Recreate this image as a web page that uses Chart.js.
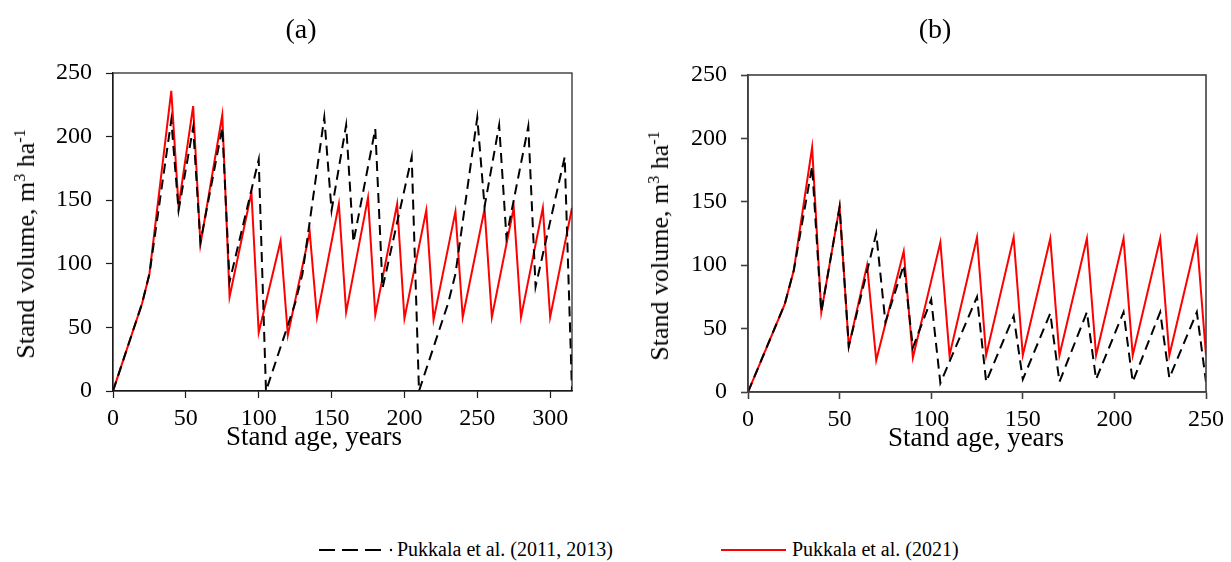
<!DOCTYPE html>
<html>
<head>
<meta charset="utf-8">
<script src="https://cdn.jsdelivr.net/npm/chart.js@4/dist/chart.umd.min.js"></script>
<style>
  body { margin: 0; background: #fff; width: 1231px; height: 562px; position: relative; overflow: hidden;
         font-family: 'Liberation Serif', 'Times New Roman', serif; color: #000; }
  .box { position: absolute; }
  .lbl { position: absolute; transform: translate(-50%, -50%); line-height: 1; white-space: nowrap; }
  .ytitle { position: absolute; transform: translate(-50%, -50%) rotate(-90deg); line-height: 1; white-space: nowrap; font-size: 26px; }
  .ytitle sup { font-size: 0.62em; vertical-align: 0.55em; line-height: 0; }
  .legend { position: absolute; left: 0; top: 537px; width: 1231px; height: 26px; }
  .legend span { position: absolute; top: 2px; font-size: 20px; line-height: 1; white-space: nowrap; }
</style>
</head>
<body>
<div class="box" id="wrapA" style="left:0;top:0;width:600px;height:440px"><canvas id="chartA"></canvas></div>
<div class="box" id="wrapB" style="left:620px;top:0;width:611px;height:440px"><canvas id="chartB"></canvas></div>

<div class="lbl" style="left:301px;top:29px;font-size:28px">(a)</div>
<div class="lbl" style="left:935px;top:29px;font-size:28px">(b)</div>
<div class="lbl" style="left:314px;top:436px;font-size:27px">Stand age, years</div>
<div class="lbl" style="left:976px;top:437px;font-size:27px">Stand age, years</div>
<div class="ytitle" style="left:26px;top:244px">Stand volume, m<sup>3</sup> ha<sup>-1</sup></div>
<div class="ytitle" style="left:660px;top:246px">Stand volume, m<sup>3</sup> ha<sup>-1</sup></div>

<div class="legend">
  <svg style="position:absolute;left:318px;top:0" width="80" height="26">
    <line x1="1" y1="13" x2="63" y2="13" stroke="#000" stroke-width="2" stroke-dasharray="16,7"></line>
    <circle cx="73" cy="13" r="1.2" fill="#000"></circle>
  </svg>
  <span style="left:397px">Pukkala et al. (2011, 2013)</span>
  <svg style="position:absolute;left:720px;top:0" width="68" height="26">
    <line x1="1" y1="13" x2="66" y2="13" stroke="#ff0000" stroke-width="2"></line>
  </svg>
  <span style="left:792px">Pukkala et al. (2021)</span>
</div>

<script>
// (a) stand age (years) and volume (m3/ha)
const agesRedA = [0, 20, 25, 40, 45, 55, 60, 75, 80, 95, 100, 115, 120, 135, 140, 155, 160, 175, 180, 195, 200, 215, 220, 235, 240, 255, 260, 275, 280, 295, 300, 315];
const volRedA  = [0, 69, 92, 236, 145, 224, 115, 217, 74, 156, 46, 118, 44, 125, 58, 147, 62, 152, 60, 147, 57, 142, 56, 141, 58, 143, 58, 144, 58, 144, 58, 144];
const agesBlackA = [0, 20, 25, 40, 45, 55, 60, 75, 80, 100, 105, 125, 130, 145, 150, 160, 165, 180, 185, 205, 210, 230, 235, 250, 255, 265, 270, 285, 290, 310, 315];
const volBlackA  = [0, 69, 92, 213, 142, 207, 117, 207, 86, 182, 0, 69, 92, 215, 142, 209, 117, 206, 81, 184, 0, 69, 92, 215, 145, 209, 121, 208, 82, 184, 0];

// (b)
const agesRedB = [0, 20, 25, 35, 40, 50, 55, 65, 70, 85, 90, 105, 110, 125, 130, 145, 150, 165, 170, 185, 190, 205, 210, 225, 230, 245, 250];
const volRedB  = [0, 69, 96, 193, 63, 146, 36, 100, 25, 111, 27, 118, 29, 122, 29, 122, 29, 121, 29, 121, 29, 121, 29, 121, 29, 121, 29];
const agesBlackB = [0, 20, 25, 35, 40, 50, 55, 70, 75, 85, 90, 100, 105, 125, 130, 145, 150, 165, 170, 185, 190, 205, 210, 225, 230, 245, 250];
const volBlackB  = [0, 69, 96, 178, 63, 146, 36, 125, 55, 100, 35, 73, 7, 75, 8, 60, 10, 62, 8, 63, 10, 63, 8, 63, 11, 63, 8];

const xTicksA = [0, 50, 100, 150, 200, 250, 300];
const xTicksB = [0, 50, 100, 150, 200, 250];
const yTicks = [0, 50, 100, 150, 200, 250];

const seriesNames = ['Pukkala et al. (2011, 2013)', 'Pukkala et al. (2021)'];

const serif = "'Liberation Serif', 'Times New Roman', serif";

const zip = (xs, ys) => xs.map((x, i) => ({ x: x, y: ys[i] }));

// box round the plot area
const framePlugin = {
  id: 'frame',
  afterDraw(chart, args, opts) {
    const a = chart.chartArea;
    const ctx = chart.ctx;
    ctx.save();
    ctx.strokeStyle = opts.color;
    ctx.lineWidth = opts.width;
    ctx.strokeRect(a.left, a.top, a.right - a.left, a.bottom - a.top);
    ctx.restore();
  }
};

function makeChart(id, o) {
  const axisColor = o.axisColor;
  return new Chart(document.getElementById(id), {
    type: 'line',
    data: {
      datasets: [
        {
          label: seriesNames[0],
          data: zip(o.blackX, o.blackY),
          borderColor: '#000',
          borderWidth: 2,
          borderDash: [10, 6],
          pointRadius: 0,
          tension: 0,
          fill: false
        },
        {
          label: seriesNames[1],
          data: zip(o.redX, o.redY),
          borderColor: '#ff0000',
          borderWidth: 2,
          pointRadius: 0,
          tension: 0,
          fill: false
        }
      ]
    },
    options: {
      responsive: true,
      maintainAspectRatio: false,
      animation: false,
      layout: { padding: { top: o.top, right: o.right, left: 0, bottom: 0 } },
      plugins: {
        legend: { display: false },
        tooltip: { enabled: false },
        frame: { color: axisColor, width: o.lineW }
      },
      scales: {
        x: {
          type: 'linear',
          min: 0,
          max: o.xMax,
          border: { display: true, color: axisColor, width: o.lineW },
          grid: { display: true, drawOnChartArea: false, drawTicks: true, tickLength: 7, tickColor: axisColor, tickWidth: o.lineW },
          ticks: { color: '#000', font: { family: serif, size: 24 }, padding: 6, maxRotation: 0, autoSkip: false },
          afterBuildTicks: s => { s.ticks = o.xTicks.map(v => ({ value: v })); },
          afterFit: s => { s.height = o.xH; }
        },
        y: {
          min: 0,
          max: 250,
          border: { display: true, color: axisColor, width: o.lineW },
          grid: { display: true, drawOnChartArea: false, drawTicks: true, tickLength: 7, tickColor: axisColor, tickWidth: o.lineW },
          ticks: { color: '#000', font: { family: serif, size: 24 }, padding: 14 },
          afterBuildTicks: s => { s.ticks = yTicks.map(v => ({ value: v })); },
          afterFit: s => { s.width = o.yW; }
        }
      }
    },
    plugins: [framePlugin]
  });
}

makeChart('chartA', {
  redX: agesRedA, redY: volRedA, blackX: agesBlackA, blackY: volBlackA,
  xTicks: xTicksA, xMax: 315, top: 73, right: 28, yW: 113, xH: 49,
  axisColor: '#1a1a1a', lineW: 1.2
});

makeChart('chartB', {
  redX: agesRedB, redY: volRedB, blackX: agesBlackB, blackY: volBlackB,
  xTicks: xTicksB, xMax: 250, top: 75, right: 25, yW: 128, xH: 48,
  axisColor: '#404040', lineW: 1.6
});
</script>
</body>
</html>
